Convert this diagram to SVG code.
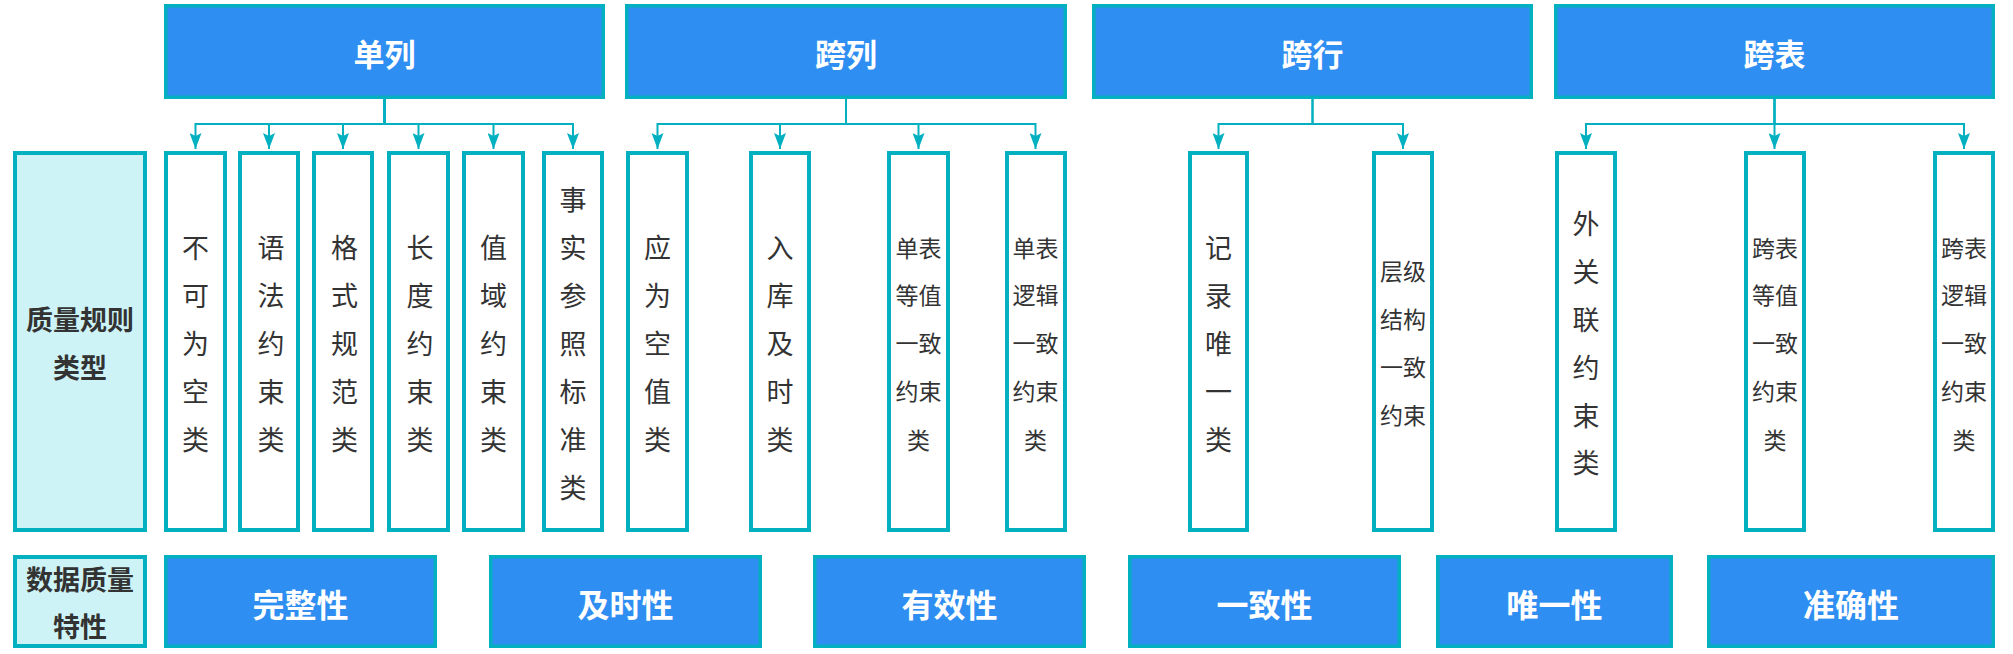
<svg xmlns="http://www.w3.org/2000/svg" width="2013" height="654" viewBox="0 0 2013 654">
<style>
  .hdr { fill: #2f8ef2; stroke: #03b0c0; stroke-width: 3.5; }
  .item { fill: #ffffff; stroke: #03b0c0; stroke-width: 4; }
  .side { fill: #cdf3f7; stroke: #03b0c0; stroke-width: 4; }
  .wt { font-family: "Noto Sans CJK SC", "Noto Sans", sans-serif; font-weight: bold; fill: #ffffff; text-anchor: middle; dominant-baseline: central; }
  .bt { font-family: "Noto Sans CJK SC", "Noto Sans", sans-serif; font-weight: bold; fill: #333333; text-anchor: middle; dominant-baseline: central; font-size: 27px; }
  .lt { font-family: "Noto Sans CJK SC", "Noto Sans", sans-serif; fill: #333333; text-anchor: middle; dominant-baseline: central; font-size: 27px; }
  .st { font-family: "Noto Sans CJK SC", "Noto Sans", sans-serif; fill: #333333; text-anchor: middle; dominant-baseline: central; font-size: 23px; }
  .conn { fill: none; stroke: #03b0c0; stroke-width: 2; }
</style>
<defs>
  <marker id="arr" markerUnits="userSpaceOnUse" markerWidth="16" markerHeight="12" viewBox="0 0 16 12" refX="16" refY="6" orient="auto">
    <path d="M0,0 L16,6 L0,12 L3,6 z" fill="#03b0c0"/>
  </marker>
</defs>
<rect width="2013" height="654" fill="#ffffff"/>

<g id="connectors">
  <path class="conn" marker-end="url(#arr)" d="M384.5 99 V124 H195.5 V149"/>
  <path class="conn" marker-end="url(#arr)" d="M384.5 99 V124 H269 V149"/>
  <path class="conn" marker-end="url(#arr)" d="M384.5 99 V124 H343 V149"/>
  <path class="conn" marker-end="url(#arr)" d="M384.5 99 V124 H418.5 V149"/>
  <path class="conn" marker-end="url(#arr)" d="M384.5 99 V124 H493.5 V149"/>
  <path class="conn" marker-end="url(#arr)" d="M384.5 99 V124 H573 V149"/>
  <path class="conn" marker-end="url(#arr)" d="M846 99 V124 H657.5 V149"/>
  <path class="conn" marker-end="url(#arr)" d="M846 99 V124 H780 V149"/>
  <path class="conn" marker-end="url(#arr)" d="M846 99 V124 H918.5 V149"/>
  <path class="conn" marker-end="url(#arr)" d="M846 99 V124 H1035.5 V149"/>
  <path class="conn" marker-end="url(#arr)" d="M1312.5 99 V124 H1218.5 V149"/>
  <path class="conn" marker-end="url(#arr)" d="M1312.5 99 V124 H1403 V149"/>
  <path class="conn" marker-end="url(#arr)" d="M1774.5 99 V124 H1586 V149"/>
  <path class="conn" marker-end="url(#arr)" d="M1774.5 99 V149"/>
  <path class="conn" marker-end="url(#arr)" d="M1774.5 99 V124 H1964 V149"/>
</g>

<g id="h-danlie"><rect class="hdr" x="165.75" y="5.75" width="437.5" height="91.5"/><text class="wt" x="384.5" y="52" font-size="31">单列</text></g>
<g id="h-kualie"><rect class="hdr" x="626.75" y="5.75" width="438.5" height="91.5"/><text class="wt" x="846" y="52" font-size="31">跨列</text></g>
<g id="h-kuahang"><rect class="hdr" x="1093.75" y="5.75" width="437.5" height="91.5"/><text class="wt" x="1312.5" y="52" font-size="31">跨行</text></g>
<g id="h-kuabiao"><rect class="hdr" x="1555.75" y="5.75" width="437.5" height="91.5"/><text class="wt" x="1774.5" y="52" font-size="31">跨表</text></g>

<g id="side-rule"><rect class="side" x="15" y="153" width="130" height="377"/>
  <text class="bt" x="80" y="318">质量规则</text><text class="bt" x="80" y="366">类型</text></g>
<g id="side-attr"><rect class="side" x="15" y="557" width="130" height="89"/>
  <text class="bt" x="80" y="578">数据质量</text><text class="bt" x="80" y="625">特性</text></g>

<g id="i1"><rect class="item" x="166" y="153" width="59" height="377"/>
  <text class="lt"><tspan x="195.5" y="246">不</tspan><tspan x="195.5" y="294">可</tspan><tspan x="195.5" y="342">为</tspan><tspan x="195.5" y="390">空</tspan><tspan x="195.5" y="438">类</tspan></text></g>
<g id="i2"><rect class="item" x="240" y="153" width="58" height="377"/>
  <text class="lt"><tspan x="271" y="246">语</tspan><tspan x="271" y="294">法</tspan><tspan x="271" y="342">约</tspan><tspan x="271" y="390">束</tspan><tspan x="271" y="438">类</tspan></text></g>
<g id="i3"><rect class="item" x="314" y="153" width="58" height="377"/>
  <text class="lt"><tspan x="344.5" y="246">格</tspan><tspan x="344.5" y="294">式</tspan><tspan x="344.5" y="342">规</tspan><tspan x="344.5" y="390">范</tspan><tspan x="344.5" y="438">类</tspan></text></g>
<g id="i4"><rect class="item" x="389" y="153" width="59" height="377"/>
  <text class="lt"><tspan x="420" y="246">长</tspan><tspan x="420" y="294">度</tspan><tspan x="420" y="342">约</tspan><tspan x="420" y="390">束</tspan><tspan x="420" y="438">类</tspan></text></g>
<g id="i5"><rect class="item" x="464" y="153" width="59" height="377"/>
  <text class="lt"><tspan x="493.5" y="246">值</tspan><tspan x="493.5" y="294">域</tspan><tspan x="493.5" y="342">约</tspan><tspan x="493.5" y="390">束</tspan><tspan x="493.5" y="438">类</tspan></text></g>
<g id="i6"><rect class="item" x="544" y="153" width="58" height="377"/>
  <text class="lt"><tspan x="573" y="198">事</tspan><tspan x="573" y="246">实</tspan><tspan x="573" y="294">参</tspan><tspan x="573" y="342">照</tspan><tspan x="573" y="390">标</tspan><tspan x="573" y="438">准</tspan><tspan x="573" y="486">类</tspan></text></g>
<g id="i7"><rect class="item" x="628" y="153" width="59" height="377"/>
  <text class="lt"><tspan x="657.5" y="246">应</tspan><tspan x="657.5" y="294">为</tspan><tspan x="657.5" y="342">空</tspan><tspan x="657.5" y="390">值</tspan><tspan x="657.5" y="438">类</tspan></text></g>
<g id="i8"><rect class="item" x="751" y="153" width="58" height="377"/>
  <text class="lt"><tspan x="780" y="246">入</tspan><tspan x="780" y="294">库</tspan><tspan x="780" y="342">及</tspan><tspan x="780" y="390">时</tspan><tspan x="780" y="438">类</tspan></text></g>
<g id="i9"><rect class="item" x="889" y="153" width="59" height="377"/>
  <text class="st"><tspan x="918.5" y="247">单表</tspan><tspan x="918.5" y="294">等值</tspan><tspan x="918.5" y="342">一致</tspan><tspan x="918.5" y="390">约束</tspan><tspan x="918.5" y="439">类</tspan></text></g>
<g id="i10"><rect class="item" x="1007" y="153" width="58" height="377"/>
  <text class="st"><tspan x="1035.5" y="247">单表</tspan><tspan x="1035.5" y="294">逻辑</tspan><tspan x="1035.5" y="342">一致</tspan><tspan x="1035.5" y="390">约束</tspan><tspan x="1035.5" y="439">类</tspan></text></g>
<g id="i11"><rect class="item" x="1190" y="153" width="57" height="377"/>
  <text class="lt"><tspan x="1218.5" y="246">记</tspan><tspan x="1218.5" y="294">录</tspan><tspan x="1218.5" y="342">唯</tspan><tspan x="1218.5" y="390">一</tspan><tspan x="1218.5" y="438">类</tspan></text></g>
<g id="i12"><rect class="item" x="1374" y="153" width="58" height="377"/>
  <text class="st"><tspan x="1403" y="270">层级</tspan><tspan x="1403" y="318">结构</tspan><tspan x="1403" y="366">一致</tspan><tspan x="1403" y="414">约束</tspan></text></g>
<g id="i13"><rect class="item" x="1557" y="153" width="58" height="377"/>
  <text class="lt"><tspan x="1586" y="222">外</tspan><tspan x="1586" y="270">关</tspan><tspan x="1586" y="318">联</tspan><tspan x="1586" y="366">约</tspan><tspan x="1586" y="414">束</tspan><tspan x="1586" y="461">类</tspan></text></g>
<g id="i14"><rect class="item" x="1746" y="153" width="58" height="377"/>
  <text class="st"><tspan x="1775" y="247">跨表</tspan><tspan x="1775" y="294">等值</tspan><tspan x="1775" y="342">一致</tspan><tspan x="1775" y="390">约束</tspan><tspan x="1775" y="439">类</tspan></text></g>
<g id="i15"><rect class="item" x="1935" y="153" width="58" height="377"/>
  <text class="st"><tspan x="1964" y="247">跨表</tspan><tspan x="1964" y="294">逻辑</tspan><tspan x="1964" y="342">一致</tspan><tspan x="1964" y="390">约束</tspan><tspan x="1964" y="439">类</tspan></text></g>

<g id="a1"><rect class="hdr" x="165.75" y="556.75" width="269.5" height="89.5"/><text class="wt" x="300.5" y="603" font-size="32">完整性</text></g>
<g id="a2"><rect class="hdr" x="490.75" y="556.75" width="269.5" height="89.5"/><text class="wt" x="625.5" y="603" font-size="32">及时性</text></g>
<g id="a3"><rect class="hdr" x="814.75" y="556.75" width="269.5" height="89.5"/><text class="wt" x="949.5" y="603" font-size="32">有效性</text></g>
<g id="a4"><rect class="hdr" x="1129.75" y="556.75" width="269.5" height="89.5"/><text class="wt" x="1264.5" y="603" font-size="32">一致性</text></g>
<g id="a5"><rect class="hdr" x="1437.75" y="556.75" width="233.5" height="89.5"/><text class="wt" x="1554.5" y="603" font-size="32">唯一性</text></g>
<g id="a6"><rect class="hdr" x="1708.75" y="556.75" width="284.5" height="89.5"/><text class="wt" x="1851" y="603" font-size="32">准确性</text></g>
</svg>
